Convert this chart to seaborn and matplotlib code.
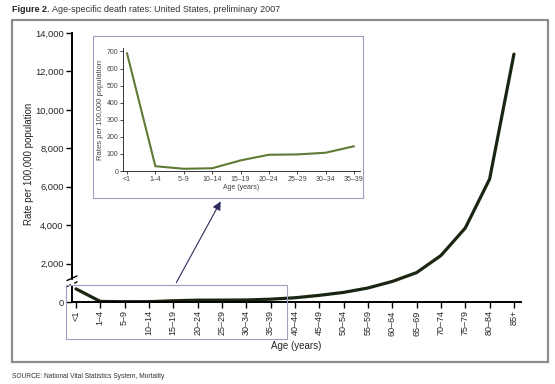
import numpy as np
import matplotlib
matplotlib.use("Agg")
import matplotlib.pyplot as plt
from matplotlib.patches import Rectangle, FancyArrowPatch
import seaborn as sns

ages = ["<1", "1–4", "5–9", "10–14", "15–19", "20–24", "25–29", "30–34", "35–39",
        "40–44", "45–49", "50–54", "55–59", "60–64", "65–69", "70–74", "75–79",
        "80–84", "85+"]
rates = [684, 29, 15, 17, 64, 96, 98, 106, 146, 221, 346, 500, 730, 1070,
         1530, 2420, 3850, 6400, 12900]
inset_ages = ages[:9]
inset_rates = [690, 28, 13, 16, 62, 95, 97, 107, 145]
y_ticks = [0, 2000, 4000, 6000, 8000, 10000, 12000, 14000]
inset_ticks = [0, 100, 200, 300, 400, 500, 600, 700]

sns.set_style("white")
plt.rcParams["font.family"] = ["Liberation Sans", "DejaVu Sans"]

W, H = 555, 384
fig = plt.figure(figsize=(W / 100, H / 100), dpi=100)


def fx(px):
    return px / W


def fy(py):
    return (H - py) / H


# outer frame, title, source
fig.patches.append(Rectangle((fx(12), fy(362)), fx(548) - fx(12), fy(20) - fy(362),
                             transform=fig.transFigure, fill=False,
                             edgecolor="#8c8c8c", lw=1.6))
t1 = fig.text(fx(12), fy(10), "Figure 2.", fontsize=6.5, fontweight="bold", va="center")
fig.add_artist(plt.Annotation(
    "Age-specific death rates: United States, preliminary 2007",
    xy=(1, 0.5), xycoords=t1, xytext=(2, 0), textcoords="offset points",
    fontsize=6.5, va="center", color="#333333"))
fig.text(fx(12), fy(376), "SOURCE: National Vital Statistics System, Mortality",
         fontsize=4.8, va="center", color="#333333")

# main chart
ax = fig.add_axes([fx(72), fy(302), fx(521) - fx(72), fy(33) - fy(302)])
sns.lineplot(x=np.arange(len(ages)), y=rates, ax=ax, color="#1b2612", lw=2.3)
ax.set_xlim(-0.164, len(ages) - 1 + 0.29)
ax.set_ylim(0, 14000)
ax.set_xticks(np.arange(len(ages)))
ax.set_xticklabels(ages, rotation=90, fontsize=6.5)
ax.set_yticks(y_ticks)
ax.set_yticklabels([f"{v:,}" for v in y_ticks], fontsize=6.7)
ax.tick_params(axis="both", direction="out", length=4, width=1, color="black", pad=2)
ax.tick_params(left=True, bottom=True)
sns.despine(ax=ax)
for s in ("left", "bottom"):
    ax.spines[s].set_linewidth(1.4)
    ax.spines[s].set_color("black")
ax.set_xlabel("Age (years)", fontsize=7, labelpad=4)
ax.set_ylabel("Rate per 100,000 population", fontsize=7)
ax.yaxis.set_label_coords(-0.085, 0.513)

# axis break marks
for yb in (fy(279), fy(285)):
    ax.plot([fx(67), fx(77)], [yb - 0.004, yb + 0.008], transform=fig.transFigure,
            color="black", lw=1, clip_on=False)
fig.patches.append(Rectangle((fx(71), fy(284)), fx(2), fy(280) - fy(284),
                             transform=fig.transFigure, color="white", zorder=5))

# highlighted region, inset frame and arrow
fig.patches.append(Rectangle((fx(66), fy(339)), fx(287) - fx(66), fy(285) - fy(339),
                             transform=fig.transFigure, fill=False,
                             edgecolor="#9aa0c0", lw=0.8))
fig.patches.append(Rectangle((fx(93), fy(198)), fx(363) - fx(93), fy(36) - fy(198),
                             transform=fig.transFigure, fill=False,
                             edgecolor="#9aa0c0", lw=0.8))
fig.add_artist(FancyArrowPatch(
    (fx(175), fy(285)), (fx(222), fy(199)), transform=fig.transFigure,
    arrowstyle="-|>,head_length=5,head_width=2.5", color="#2b2d5a", lw=0.8))

# inset
ax2 = fig.add_axes([fx(123), fy(171), fx(360) - fx(123), fy(48) - fy(171)])
sns.lineplot(x=np.arange(len(inset_ages)), y=inset_rates, ax=ax2,
             color="#5f7a35", lw=1.5)
ax2.set_xlim(-0.14, len(inset_ages) - 1 + 0.21)
ax2.set_ylim(0, 720)
ax2.set_xticks(np.arange(len(inset_ages)))
ax2.set_xticklabels(inset_ages, fontsize=5, color="#444444")
ax2.set_yticks(inset_ticks)
ax2.set_yticklabels(inset_ticks, fontsize=5, color="#444444")
ax2.tick_params(axis="both", direction="out", length=2, width=0.6, pad=1.5,
                left=True, bottom=True)
sns.despine(ax=ax2)
for s in ("left", "bottom"):
    ax2.spines[s].set_linewidth(0.7)
    ax2.spines[s].set_color("#333333")
ax2.set_xlabel("Age (years)", fontsize=5, color="#444444", labelpad=1)
ax2.set_ylabel("Rates per 100,000 population", fontsize=5.5, color="#444444", labelpad=2)

fig.savefig("out.png", dpi=100)
